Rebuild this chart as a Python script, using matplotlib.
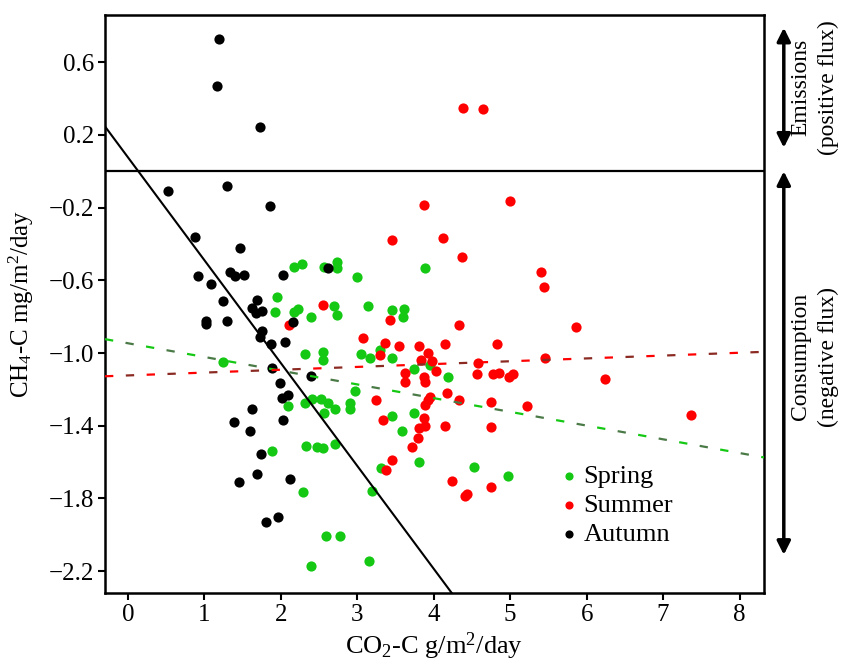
import numpy as np
import matplotlib
matplotlib.use("Agg")
import matplotlib.pyplot as plt
from matplotlib.transforms import blended_transform_factory

plt.rcParams['font.family'] = ['Liberation Serif', 'DejaVu Serif']
plt.rcParams['mathtext.fontset'] = 'custom'
plt.rcParams['mathtext.rm'] = 'Liberation Serif'
plt.rcParams['mathtext.it'] = 'Liberation Serif:italic'
plt.rcParams['lines.scale_dashes'] = False

# Spring
spring_x = [2.17, 2.28, 2.56, 2.74, 2.73, 3.00, 3.88, 1.95, 1.93, 2.17, 2.23, 2.40, 2.69, 2.74,
            3.14, 3.45, 3.61, 3.60, 2.31, 2.55, 2.55, 3.05, 3.16, 3.30, 3.45, 1.24, 3.74, 4.18,
            2.97, 2.09, 2.31, 2.41, 2.53, 2.62, 2.57, 2.71, 2.90, 2.91, 3.45, 3.74, 3.59, 1.89,
            2.33, 2.47, 2.55, 2.71, 3.81, 3.31, 2.29, 3.19, 2.59, 2.77, 2.40, 3.15, 3.95, 4.52, 4.97]
spring_y = [-0.524, -0.511, -0.524, -0.500, -0.530, -0.583, -0.532, -0.690, -0.772, -0.776, -0.756,
            -0.800, -0.741, -0.791, -0.741, -0.763, -0.758, -0.800, -1.006, -0.996, -1.039, -1.006,
            -1.029, -0.983, -1.029, -1.051, -1.088, -1.130, -1.209, -1.290, -1.277, -1.255, -1.252,
            -1.277, -1.327, -1.310, -1.277, -1.309, -1.347, -1.329, -1.430, -1.538, -1.511, -1.516,
            -1.523, -1.501, -1.599, -1.632, -1.764, -1.758, -2.004, -2.004, -2.172, -2.142, -1.066,
            -1.626, -1.676]

# Summer
summer_x = [4.38, 4.65, 3.87, 5.00, 3.46, 4.12, 4.37, 5.40, 5.44, 3.43, 4.33, 5.86, 2.55, 2.11,
            3.08, 3.36, 3.30, 3.54, 3.81, 4.15, 3.93, 3.83, 3.98, 4.03, 3.62, 3.63, 3.87, 3.88,
            3.24, 4.17, 3.95, 3.88, 3.33, 3.87, 3.81, 3.88, 4.15, 3.80, 3.71, 3.46, 3.37, 4.83,
            4.58, 5.45, 4.57, 4.77, 4.85, 4.99, 5.03, 6.24, 3.93, 4.33, 4.75, 5.22, 4.75, 7.37,
            4.24, 4.41, 4.44, 4.75]
summer_y = [0.348, 0.343, -0.183, -0.161, -0.377, -0.365, -0.473, -0.555, -0.635, -0.818, -0.846,
            -0.855, -0.736, -0.846, -0.919, -0.947, -1.011, -0.961, -0.960, -0.950, -1.002, -1.039,
            -1.044, -1.097, -1.112, -1.158, -1.130, -1.158, -1.259, -1.222, -1.241, -1.287, -1.369,
            -1.360, -1.412, -1.402, -1.400, -1.467, -1.516, -1.590, -1.641, -0.952, -1.057, -1.029,
            -1.116, -1.116, -1.108, -1.130, -1.116, -1.145, -1.259, -1.259, -1.268, -1.292, -1.408,
            -1.342, -1.705, -1.788, -1.777, -1.737]

# Autumn
autumn_x = [1.19, 1.17, 1.73, 0.52, 1.29, 1.86, 0.88, 1.46, 0.91, 1.09, 1.34, 1.40, 1.52, 2.03,
            2.62, 1.24, 1.69, 1.62, 1.68, 1.76, 1.02, 1.02, 1.29, 2.16, 1.76, 1.73, 1.87, 2.06,
            1.89, 2.39, 1.99, 2.01, 2.10, 1.62, 2.03, 1.39, 1.60, 1.74, 1.69, 1.45, 2.12, 1.81, 1.96]
autumn_y = [0.728, 0.471, 0.245, -0.109, -0.082, -0.190, -0.359, -0.423, -0.576, -0.622, -0.552,
            -0.576, -0.570, -0.570, -0.533, -0.715, -0.706, -0.750, -0.778, -0.767, -0.822, -0.840,
            -0.825, -0.827, -0.877, -0.910, -0.949, -0.941, -1.081, -1.125, -1.165, -1.246, -1.231,
            -1.305, -1.369, -1.378, -1.430, -1.553, -1.668, -1.707, -1.693, -1.931, -1.904]

# fitted lines (intercept, slope)
autumn_fit = (0.077, -0.566)
spring_fit = (-0.946, -0.0755)
summer_fit = (-1.123, 0.0156)

xticks = [0, 1, 2, 3, 4, 5, 6, 7, 8]
yticks = [0.6, 0.2, -0.2, -0.6, -1.0, -1.4, -1.8, -2.2]

green = '#14c814'
red = '#ff0000'

fig = plt.figure(figsize=(8.53, 6.61), dpi=100)
ax = fig.add_axes([0.1231, 0.1029, 0.7726, 0.8744])
xlim = (-0.3, 8.32)
ylim = (-2.32, 0.86)

ms = 54
ax.scatter(spring_x, spring_y, s=ms, c=green, lw=0, label='Spring', zorder=3)
ax.scatter(summer_x, summer_y, s=ms, c=red, lw=0, label='Summer', zorder=3)
ax.scatter(autumn_x, autumn_y, s=ms, c='black', lw=0, label='Autumn', zorder=3)

xx = np.array(xlim)
ax.plot(xx, autumn_fit[0] + autumn_fit[1] * xx, color='black', lw=1.5, zorder=4)
# dashed fits, alternating light / dark dashes
for fit, c1, c2 in [(spring_fit, green, '#4a7a46'), (summer_fit, red, '#8a2a22')]:
    yy = fit[0] + fit[1] * xx
    l1, = ax.plot(xx, yy, color=c1, lw=1.6, zorder=4)
    l1.set_dashes((6, 24))
    l2, = ax.plot(xx, yy, color=c2, lw=1.6, zorder=4)
    l2.set_dashes((0, 15, 6, 9))

ax.axhline(0, color='black', lw=1.6, zorder=4)

ax.set_xlim(*xlim)
ax.set_ylim(*ylim)
ax.set_xticks(xticks)
ax.set_yticks(yticks)
ax.set_yticklabels([f"{v:.1f}".replace('-', '\u2212') for v in yticks])
ax.tick_params(direction='out', length=5, width=1.5, labelsize=18, pad=3)
for s in ax.spines.values():
    s.set_linewidth(1.8)

ax.set_xlabel('CO$_2$-C g/m$^2$/day', fontsize=19, labelpad=3)
ax.set_ylabel('CH$_4$-C mg/m$^2$/day', fontsize=18, labelpad=9)

leg = ax.legend(loc='upper left', bbox_to_anchor=(0.668, 0.24), frameon=False, fontsize=19,
                handletextpad=0.05, labelspacing=0.2, borderaxespad=0, markerscale=0.8,
                handlelength=1.0)

trans = blended_transform_factory(ax.transAxes, ax.transData)
arrow = dict(arrowstyle='<|-|>', lw=2.5, color='black', mutation_scale=20, shrinkA=0, shrinkB=0)
ax.annotate('', xy=(1.03, 0.79), xytext=(1.03, 0.13), xycoords=trans, textcoords=trans,
            arrowprops=arrow, annotation_clip=False)
ax.annotate('', xy=(1.03, 0.0), xytext=(1.03, -2.11), xycoords=trans, textcoords=trans,
            arrowprops=arrow, annotation_clip=False)
ax.text(1.056, 0.46, 'Emissions', transform=trans, rotation=90, ha='center', va='center', fontsize=17)
ax.text(1.097, 0.46, '(positive flux)', transform=trans, rotation=90, ha='center', va='center', fontsize=17)
ax.text(1.056, -1.02, 'Consumption', transform=trans, rotation=90, ha='center', va='center', fontsize=17)
ax.text(1.097, -1.02, '(negative flux)', transform=trans, rotation=90, ha='center', va='center', fontsize=17)

fig.savefig('out.png', dpi=100)
